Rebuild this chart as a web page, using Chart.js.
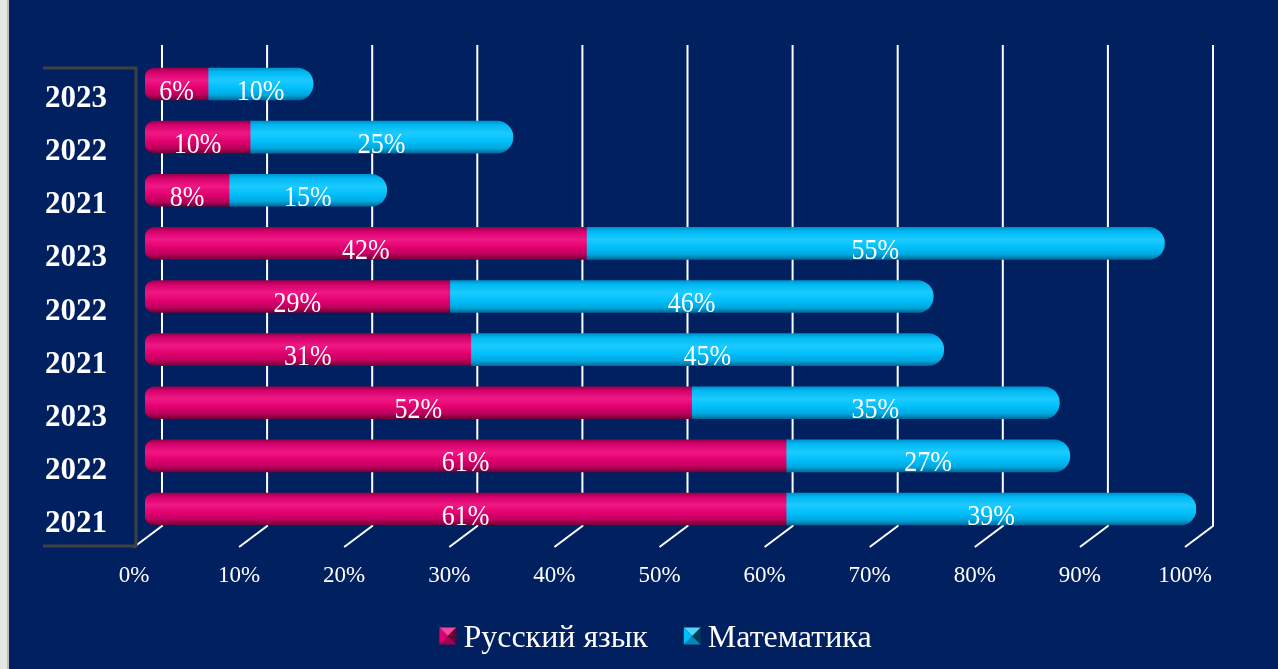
<!DOCTYPE html>
<html>
<head>
<meta charset="utf-8">
<script src="https://cdn.jsdelivr.net/npm/chart.js@4.4.1/dist/chart.umd.min.js"></script>
<style>
  html, body { margin: 0; padding: 0; background: #002060; overflow: hidden; }
  #wrap { width: 1278px; height: 669px; position: relative; }
  canvas { display: block; }
</style>
</head>
<body>
<div id="wrap"><canvas id="chart" width="1278" height="669"></canvas></div>
<script>
// Categories (top to bottom) and series values, in percent
const years = ['2023', '2022', '2021', '2023', '2022', '2021', '2023', '2022', '2021'];
const russian = [6, 10, 8, 42, 29, 31, 52, 61, 61];
const maths = [10, 25, 15, 55, 46, 45, 35, 27, 39];
const seriesNames = ['Русский язык', 'Математика'];
const xTicks = [0, 10, 20, 30, 40, 50, 60, 70, 80, 90, 100];

const SERIF = "'Liberation Serif', 'Times New Roman', serif";
const BG = '#002060';
const BAR_H = 32;

// cylinder-like vertical shading for each series
const shades = {
  red: [[0, '#9c004a'], [0.12, '#d4006c'], [0.38, '#f01884'], [0.62, '#e2006f'], [0.84, '#bd005e'], [1, '#700034']],
  blue: [[0, '#0092cc'], [0.12, '#00b8f2'], [0.38, '#1ccbff'], [0.62, '#00c0fa'], [0.84, '#00a8e0'], [1, '#006c9c']]
};
const solid = { red: '#e0006f', blue: '#00bef8' };

function shaded(key) {
  return (ctx) => {
    const chart = ctx.chart;
    if (ctx.type !== 'data' || !chart.scales.y) return solid[key];
    const yc = chart.scales.y.getPixelForValue(ctx.dataIndex);
    if (!isFinite(yc)) return solid[key];
    const g = chart.ctx.createLinearGradient(0, yc - BAR_H / 2, 0, yc + BAR_H / 2);
    shades[key].forEach(([p, c]) => g.addColorStop(p, c));
    return g;
  };
}

// background, left frame edge and the 3D wall / floor lines behind the bars
const backdrop = {
  id: 'backdrop',
  beforeDraw(chart) {
    const c = chart.ctx;
    c.save();
    c.fillStyle = BG;
    c.fillRect(0, 0, chart.width, chart.height);
    c.fillStyle = '#e6e6e6';
    c.fillRect(0, 0, 7, chart.height);
    c.fillStyle = '#bdbdbd';
    c.fillRect(7, 0, 2, chart.height);
    c.restore();
  },
  beforeDatasetsDraw(chart) {
    const c = chart.ctx, x = chart.scales.x;
    c.save();
    c.strokeStyle = '#ffffff';
    c.lineWidth = 2;
    xTicks.forEach(v => {
      const xb = x.getPixelForValue(v) + 17;
      c.beginPath();
      c.moveTo(xb, 45);
      c.lineTo(xb, 526);
      c.lineTo(xb - 28, 547);
      c.stroke();
    });
    // category axis bracket
    const y = chart.scales.y;
    const top = y.getPixelForValue(0) - BAR_H / 2;
    const bottom = 546;
    const xr = chart.chartArea.left - 9;
    c.strokeStyle = '#404040';
    c.lineWidth = 3;
    c.beginPath();
    c.moveTo(43, top);
    c.lineTo(xr, top);
    c.lineTo(xr, bottom);
    c.lineTo(43, bottom);
    c.stroke();
    c.restore();
  }
};

// value labels centred on each segment (slightly tall serif type)
const valueLabels = {
  id: 'valueLabels',
  afterDatasetsDraw(chart) {
    const c = chart.ctx;
    const sy = 1.1;
    c.save();
    c.font = '26px ' + SERIF;
    c.fillStyle = '#ffffff';
    c.textAlign = 'center';
    c.textBaseline = 'middle';
    c.scale(1, sy);
    chart.data.datasets.forEach((ds, di) => {
      chart.getDatasetMeta(di).data.forEach((el, i) => {
        const v = ds.data[i];
        c.fillText(v + '%', (el.x + el.base) / 2, (el.y + 8) / sy);
      });
    });
    c.restore();
  }
};

// legend with pyramid-style markers
const pyramidLegend = {
  id: 'pyramidLegend',
  afterDraw(chart) {
    const c = chart.ctx;
    const marks = [
      { top: '#f2479c', left: '#e0006f', right: '#6c0032', bottom: '#a8004f' },
      { top: '#4fd6ff', left: '#00bef8', right: '#003a55', bottom: '#0088b8' }
    ];
    c.save();
    c.font = '32px ' + SERIF;
    const size = 17, gap = 7, spacing = 36;
    const widths = chart.data.datasets.map(ds => c.measureText(ds.label).width);
    const total = widths.reduce((a, w) => a + size + gap + w, 0) + spacing;
    let x = 655.5 - total / 2;
    const yc = 636;
    chart.data.datasets.forEach((ds, i) => {
      const m = marks[i];
      const x0 = x, y0 = yc - size / 2, x1 = x + size, y1 = yc + size / 2;
      const cx = (x0 + x1) / 2, cy = (y0 + y1) / 2;
      const tri = (pts, col) => {
        c.fillStyle = col;
        c.beginPath();
        c.moveTo(pts[0][0], pts[0][1]);
        c.lineTo(pts[1][0], pts[1][1]);
        c.lineTo(cx, cy);
        c.closePath();
        c.fill();
      };
      tri([[x0, y0], [x1, y0]], m.top);
      tri([[x0, y1], [x1, y1]], m.bottom);
      tri([[x0, y0], [x0, y1]], m.left);
      tri([[x1, y0], [x1, y1]], m.right);
      c.fillStyle = '#ffffff';
      c.textAlign = 'left';
      c.textBaseline = 'alphabetic';
      c.fillText(ds.label, x1 + gap, yc + 11);
      x = x1 + gap + widths[i] + spacing;
    });
    c.restore();
  }
};

new Chart(document.getElementById('chart'), {
  type: 'bar',
  data: {
    labels: years,
    datasets: [
      {
        label: seriesNames[0],
        data: russian,
        backgroundColor: shaded('red'),
        borderSkipped: false,
        borderRadius: { topLeft: 10, bottomLeft: 10, topRight: 0, bottomRight: 0 },
        barThickness: BAR_H
      },
      {
        label: seriesNames[1],
        data: maths,
        backgroundColor: shaded('blue'),
        borderSkipped: false,
        borderRadius: { topLeft: 0, bottomLeft: 0, topRight: 16, bottomRight: 16 },
        barThickness: BAR_H
      }
    ]
  },
  options: {
    indexAxis: 'y',
    responsive: false,
    animation: false,
    devicePixelRatio: 1,
    layout: { padding: { top: 57.44, right: 82, left: 0, bottom: 0 } },
    plugins: {
      legend: { display: false },
      tooltip: { enabled: false },
      title: { display: false }
    },
    scales: {
      x: {
        stacked: true,
        min: 0,
        max: 100,
        afterBuildTicks(scale) {
          scale.ticks = xTicks.map(v => ({ value: v }));
        },
        afterFit(scale) { scale.height = 133.44; },
        grid: { display: false },
        border: { display: false },
        ticks: {
          color: '#ffffff',
          font: { family: SERIF, size: 23 },
          padding: 19,
          labelOffset: -11,
          maxRotation: 0,
          autoSkip: false,
          callback: (v) => v + '%'
        }
      },
      y: {
        stacked: true,
        afterFit(scale) { scale.width = 145; },
        grid: { display: false },
        border: { display: false },
        ticks: {
          color: '#ffffff',
          font: { family: SERIF, size: 31, weight: 'bold' },
          padding: 30,
          labelOffset: 15,
          autoSkip: false
        }
      }
    }
  },
  plugins: [backdrop, valueLabels, pyramidLegend]
});
</script>
</body>
</html>
